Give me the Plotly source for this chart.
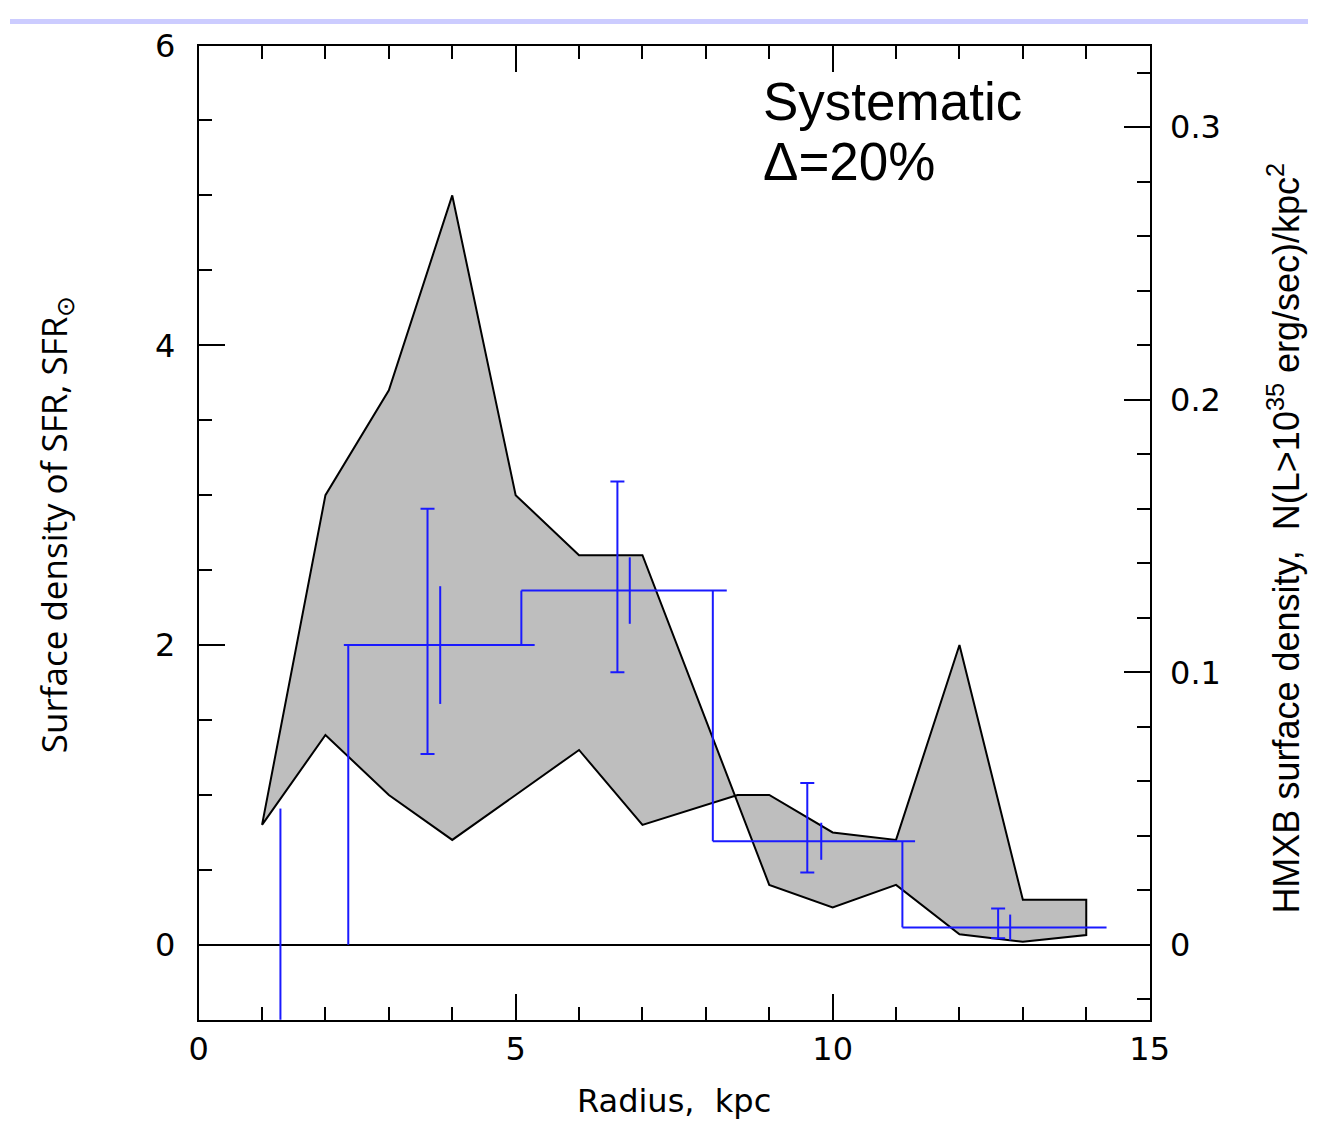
import plotly.graph_objects as go

# --- Star-formation surface density band (left axis, SFR_sun per kpc^2) ---
band_a_x = [1, 2, 3, 4, 5, 6, 7, 8, 9, 10, 11, 12, 13, 14]
band_a_y = [0.80, 3.00, 3.70, 5.00, 3.00, 2.60, 2.60, 1.50, 0.40, 0.25, 0.40, 0.07, 0.02, 0.065]
band_b_x = [1, 2, 3, 4, 5, 6, 7, 8.5, 9, 10, 11, 12, 13, 14]
band_b_y = [0.80, 1.40, 1.00, 0.70, 1.00, 1.30, 0.80, 1.00, 1.00, 0.75, 0.70, 2.00, 0.30, 0.30]

# --- HMXB surface density (right axis), binned in radius ---
bin_x0 = [2.29, 5.09, 8.11, 11.10]
bin_x1 = [5.30, 8.33, 11.30, 14.32]
bin_edge = [2.36, 5.09, 8.11, 11.10]
bin_val = [0.110, 0.130, 0.038, 0.0064]

# innermost bin: upper limit only
inner_x = 1.29
inner_lo = -0.04
inner_hi = 0.050

# statistical errors (capped) and alternative errors (no caps)
err_x = [3.61, 6.605, 9.60, 12.61]
err_plus = [0.050, 0.040, 0.0214, 0.0069]
err_minus = [0.040, 0.030, 0.0115, 0.0040]
alt_x = [3.81, 6.80, 9.82, 12.80]
alt_err = [0.0216, 0.0122, 0.0068, 0.0047]

W, H = 1328, 1122


def px(x):
    """pixel column -> paper x"""
    return x / W


def py(y):
    """pixel row (from top) -> paper y"""
    return 1 - y / H


BLUE = "#1a1aff"

fig = go.Figure()

# grey band between the two SFR profiles
fig.add_trace(go.Scatter(
    x=band_a_x + band_b_x[::-1],
    y=band_a_y + band_b_y[::-1],
    mode="lines", fill="toself", fillcolor="#bebebe",
    line=dict(color="black", width=2),
    xaxis="x", yaxis="y", hoverinfo="skip", showlegend=False,
))

# HMXB histogram: horizontal bin segments + vertical steps between bins
sx, sy = [], []
for i, v in enumerate(bin_val):
    prev = 0.0 if i == 0 else bin_val[i - 1]
    sx += [bin_edge[i], bin_edge[i], None]
    sy += [prev, v, None]
    sx += [bin_x0[i], bin_x1[i], None]
    sy += [v, v, None]
sx += [inner_x, inner_x]
sy += [inner_lo, inner_hi]
fig.add_trace(go.Scatter(
    x=sx, y=sy, mode="lines", line=dict(color=BLUE, width=2),
    xaxis="x", yaxis="y2", hoverinfo="skip", showlegend=False,
))

fig.add_trace(go.Scatter(
    x=err_x, y=bin_val, mode="markers",
    marker=dict(size=1, color="rgba(0,0,0,0)"),
    error_y=dict(type="data", array=err_plus, arrayminus=err_minus,
                 symmetric=False, color=BLUE, thickness=2, width=7),
    xaxis="x", yaxis="y2", hoverinfo="skip", showlegend=False,
))
fig.add_trace(go.Scatter(
    x=alt_x, y=bin_val, mode="markers",
    marker=dict(size=1, color="rgba(0,0,0,0)"),
    error_y=dict(type="data", array=alt_err, color=BLUE, thickness=2, width=0),
    xaxis="x", yaxis="y2", hoverinfo="skip", showlegend=False,
))

tickfont = dict(family="DejaVu Sans", size=32, color="black")
dom_x = [px(193), px(1166)]
dom_y = [py(1018), py(27)]

fig.update_layout(
    width=W, height=H,
    margin=dict(l=0, r=0, t=0, b=0),
    paper_bgcolor="white", plot_bgcolor="white",
    xaxis=dict(
        domain=dom_x, range=[0, 15], anchor="y",
        tick0=0, dtick=5, ticks="inside", ticklen=26, tickwidth=2, tickcolor="black",
        minor=dict(dtick=1, ticks="inside", ticklen=13, tickwidth=2, tickcolor="black"),
        showline=True, linewidth=2, linecolor="black", mirror="ticks",
        showgrid=False, zeroline=False, tickfont=tickfont, ticklabelstandoff=0,
    ),
    yaxis=dict(
        domain=dom_y, range=[-0.5, 6], anchor="x",
        tick0=0, dtick=2, ticks="inside", ticklen=26, tickwidth=2, tickcolor="black",
        minor=dict(dtick=0.5, ticks="inside", ticklen=13, tickwidth=2, tickcolor="black"),
        showline=True, linewidth=2, linecolor="black",
        showgrid=False, zeroline=True, zerolinecolor="black", zerolinewidth=2,
        tickfont=tickfont, ticklabelstandoff=15,
    ),
    yaxis2=dict(
        overlaying="y", side="right", anchor="x",
        range=[-0.0275, 0.33],
        tick0=0, dtick=0.1, ticks="inside", ticklen=26, tickwidth=2, tickcolor="black",
        minor=dict(dtick=0.02, ticks="inside", ticklen=13, tickwidth=2, tickcolor="black"),
        showline=True, linewidth=2, linecolor="black",
        showgrid=False, zeroline=False, tickfont=tickfont, ticklabelstandoff=12,
    ),
    shapes=[dict(type="rect", xref="paper", yref="paper", x0=0, x1=1,
                 y0=py(5), y1=1, fillcolor="#ccccff", line=dict(width=0), layer="below")],
)

ann = [
    dict(text="Radius,\u00a0\u00a0kpc", x=px(679.5), y=py(1101),
         font=dict(family="DejaVu Sans", size=32, color="black")),
    dict(text="Surface density of SFR, SFR<sub>\u2299</sub>", x=px(46), y=py(514),
         textangle=-90, font=dict(family="Open Sans", size=35, color="black")),
    dict(text="HMXB surface density,  N(L>10<sup>35</sup> erg/sec)/kpc<sup>2</sup>",
         x=px(1303), y=py(528), textangle=-90,
         font=dict(family="Liberation Sans", size=36, color="black")),
    dict(text="Systematic", x=px(768), y=py(84), xanchor="left",
         font=dict(family="Liberation Sans, Arial", size=53, color="black")),
    dict(text="\u0394=20%", x=px(768), y=py(145), xanchor="left",
         font=dict(family="Liberation Sans, Arial", size=53, color="black")),
]
for a in ann:
    a.setdefault("xanchor", "center")
    fig.add_annotation(xref="paper", yref="paper", yanchor="middle", showarrow=False, **a)

fig.write_html("out.html")
